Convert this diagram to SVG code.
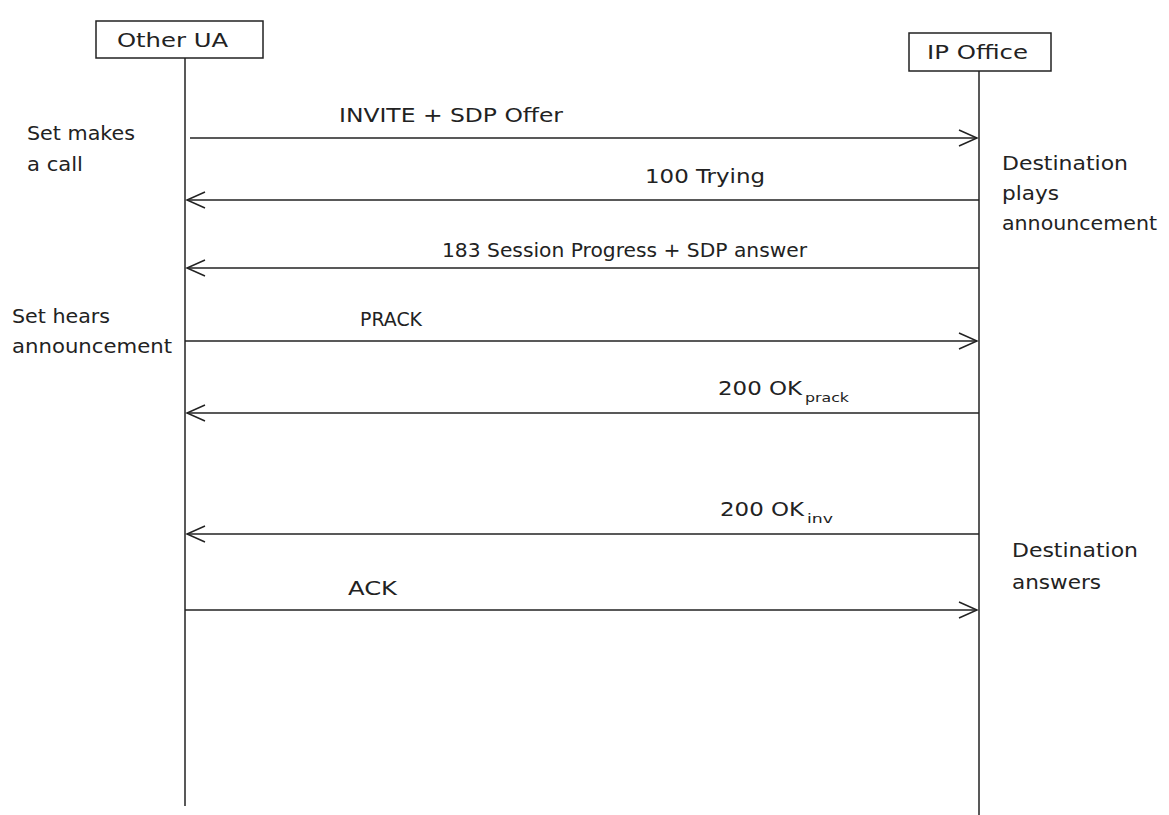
<svg xmlns="http://www.w3.org/2000/svg" width="1169" height="815" viewBox="0 0 1169 815">
<style>
text{font-family:"DejaVu Sans","Liberation Sans",sans-serif;font-size:20px;fill:#222}
.box{fill:#fff;stroke:#222;stroke-width:1.5}
.life{stroke:#222;stroke-width:1.5}
.msg{stroke:#222;stroke-width:1.5;fill:none}
.head{stroke:#222;stroke-width:1.5;fill:none}
.sub{font-size:13px}
</style>
<rect width="1169" height="815" fill="#fff"/>
<g id="other-ua">
<rect class="box" x="96" y="21" width="167" height="37"/>
<text x="117" y="47" textLength="111" lengthAdjust="spacingAndGlyphs">Other UA</text>
<line class="life" x1="185" y1="58" x2="185" y2="806"/>
</g>
<g id="ip-office">
<rect class="box" x="909" y="33" width="142" height="38"/>
<text x="927" y="59" textLength="101" lengthAdjust="spacingAndGlyphs">IP Office</text>
<line class="life" x1="979" y1="71" x2="979" y2="815"/>
</g>
<g id="notes">
<text x="27" y="140" textLength="108" lengthAdjust="spacingAndGlyphs">Set makes</text>
<text x="27" y="171" textLength="56" lengthAdjust="spacingAndGlyphs">a call</text>
<text x="1002" y="170" textLength="126" lengthAdjust="spacingAndGlyphs">Destination</text>
<text x="1002" y="200" textLength="57" lengthAdjust="spacingAndGlyphs">plays</text>
<text x="1002" y="230" textLength="155" lengthAdjust="spacingAndGlyphs">announcement</text>
<text x="12" y="323" textLength="98" lengthAdjust="spacingAndGlyphs">Set hears</text>
<text x="12" y="353" textLength="160" lengthAdjust="spacingAndGlyphs">announcement</text>
<text x="1012" y="557" textLength="126" lengthAdjust="spacingAndGlyphs">Destination</text>
<text x="1012" y="589" textLength="89" lengthAdjust="spacingAndGlyphs">answers</text>
</g>
<g id="connectors">
<line class="msg" x1="190" y1="138" x2="977" y2="138"/>
<polyline class="head" points="959,130 977,138 959,146"/>
<line class="msg" x1="979" y1="200" x2="187" y2="200"/>
<polyline class="head" points="205,192 187,200 205,208"/>
<line class="msg" x1="979" y1="268" x2="187" y2="268"/>
<polyline class="head" points="205,260 187,268 205,276"/>
<line class="msg" x1="185" y1="341" x2="977" y2="341"/>
<polyline class="head" points="959,333 977,341 959,349"/>
<line class="msg" x1="979" y1="413" x2="187" y2="413"/>
<polyline class="head" points="205,405 187,413 205,421"/>
<line class="msg" x1="979" y1="534" x2="187" y2="534"/>
<polyline class="head" points="205,526 187,534 205,542"/>
<line class="msg" x1="185" y1="610" x2="977" y2="610"/>
<polyline class="head" points="959,602 977,610 959,618"/>
</g>
<g id="labels">
<text x="339" y="122" textLength="224" lengthAdjust="spacingAndGlyphs">INVITE + SDP Offer</text>
<text x="645" y="183" textLength="120" lengthAdjust="spacingAndGlyphs">100 Trying</text>
<text x="442" y="257" textLength="365" lengthAdjust="spacingAndGlyphs">183 Session Progress + SDP answer</text>
<text x="360" y="326" textLength="62" lengthAdjust="spacingAndGlyphs">PRACK</text>
<text x="718" y="395" textLength="84" lengthAdjust="spacingAndGlyphs">200 OK</text>
<text class="sub" x="805" y="402" textLength="44" lengthAdjust="spacingAndGlyphs">prack</text>
<text x="720" y="516" textLength="84" lengthAdjust="spacingAndGlyphs">200 OK</text>
<text class="sub" x="807" y="523" textLength="26" lengthAdjust="spacingAndGlyphs">inv</text>
<text x="348" y="595" textLength="49" lengthAdjust="spacingAndGlyphs">ACK</text>
</g>
</svg>
